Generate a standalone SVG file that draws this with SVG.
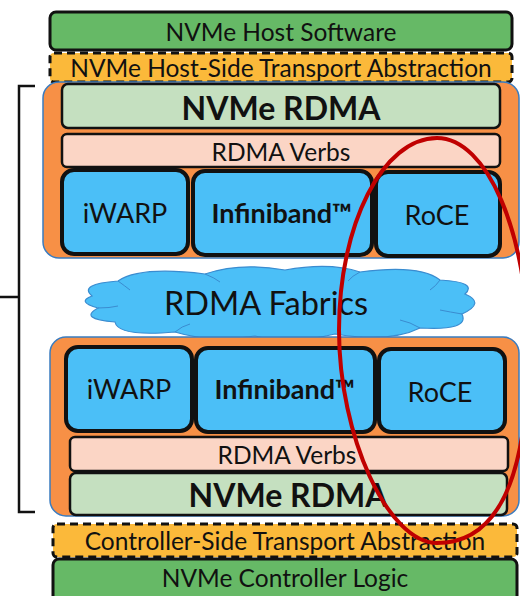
<svg xmlns="http://www.w3.org/2000/svg" width="520" height="596" viewBox="0 0 520 596">
  <style>
    text { font-family: Lato, "Open Sans", "Liberation Sans", sans-serif; fill: #111; text-anchor: middle; dominant-baseline: central; }
    .host { fill: #66b966; stroke: #111; stroke-width: 3; }
    .abs { fill: #fbb93a; stroke: #111; stroke-width: 3; stroke-dasharray: 8 5; }
    .shell { fill: #f79046; stroke: #3a7cc0; stroke-width: 1.5; }
    .nvr { fill: #c5e0c0; stroke: #111; stroke-width: 2.5; }
    .verbs { fill: #fbd5c5; stroke: #111; stroke-width: 2.5; }
    .tr { fill: #4bbff7; stroke: #111; stroke-width: 4; }
    .cloud { fill: #4bbff7; stroke: #3a8cd0; stroke-width: 1.2; }
    .cl-in { fill: none; stroke: #3a8cd0; stroke-width: 1; }
    .t22 { font-size: 24.5px; }
    .t20 { font-size: 24.5px; }
    .t24 { font-size: 27px; }
    .fab { font-size: 32.5px; }
    .bold28 { font-size: 32px; font-weight: bold; }
    .bold20 { font-size: 27px; font-weight: bold; }
  </style>

  <!-- host stack -->
  <g id="host-software">
    <rect class="host" x="50" y="12" width="462" height="38" rx="6"/>
    <text class="t22" x="281" y="31">NVMe Host Software</text>
  </g>
  <g id="host-transport">
    <rect class="abs" x="50" y="53" width="462" height="29" rx="4"/>
    <text class="t22" x="281" y="67">NVMe Host-Side Transport Abstraction</text>
  </g>
  <g id="host-rdma">
    <rect class="shell" x="43" y="82" width="476" height="176" rx="16"/>
    <g id="host-nvme-rdma">
      <rect class="nvr" x="62" y="84" width="438" height="44" rx="6"/>
      <text class="bold28" x="281" y="107">NVMe RDMA</text>
    </g>
    <g id="host-verbs">
      <rect class="verbs" x="62" y="134" width="438" height="33" rx="5"/>
      <text class="t20" x="281" y="151">RDMA Verbs</text>
    </g>
    <g id="host-iwarp">
      <rect class="tr" x="62" y="170" width="126" height="84" rx="12"/>
      <text class="t24" x="125" y="212">iWARP</text>
    </g>
    <g id="host-infiniband">
      <rect class="tr" x="193" y="171" width="179" height="84" rx="12"/>
      <text class="bold20" x="282" y="212">Infiniband™</text>
    </g>
    <g id="host-roce">
      <rect class="tr" x="376" y="172" width="124" height="84" rx="12"/>
      <text class="t24" x="437" y="214">RoCE</text>
    </g>
  </g>

  <!-- fabric -->
  <g id="fabric">
    <path class="cloud" d="M 92,296 Q 78,284 118,281 Q 140,266 205,274 Q 240,262 285,270 Q 330,262 360,272 Q 420,264 440,280 Q 478,282 465,294 Q 486,303 462,314 Q 470,331 420,328 Q 390,343 335,334 Q 290,345 255,336 Q 210,343 175,332 Q 118,337 115,322 Q 78,319 98,308 Q 76,302 92,296 Z"/>
    <path class="cl-in" d="M 118,281 Q 125,286 130,290 M 205,274 Q 215,278 220,282 M 360,272 Q 352,276 348,281 M 440,280 Q 436,286 430,290 M 462,314 Q 450,312 440,310 M 420,328 Q 410,322 400,320 M 175,332 Q 182,326 190,324 M 98,308 Q 110,308 118,306"/>
    <text class="fab" x="266" y="302">RDMA Fabrics</text>
  </g>

  <!-- controller stack -->
  <g id="ctrl-rdma">
    <rect class="shell" x="50" y="337" width="469" height="179" rx="16"/>
    <g id="ctrl-iwarp">
      <rect class="tr" x="66" y="347" width="126" height="84" rx="12"/>
      <text class="t24" x="129" y="388">iWARP</text>
    </g>
    <g id="ctrl-infiniband">
      <rect class="tr" x="196" y="348" width="179" height="84" rx="12"/>
      <text class="bold20" x="285" y="388">Infiniband™</text>
    </g>
    <g id="ctrl-roce">
      <rect class="tr" x="379" y="349" width="126" height="83" rx="12"/>
      <text class="t24" x="440" y="391">RoCE</text>
    </g>
    <g id="ctrl-verbs">
      <rect class="verbs" x="70" y="437" width="438" height="34" rx="5"/>
      <text class="t20" x="287" y="454">RDMA Verbs</text>
    </g>
    <g id="ctrl-nvme-rdma">
      <rect class="nvr" x="70" y="473" width="437" height="42" rx="6"/>
      <text class="bold28" x="288" y="494">NVMe RDMA</text>
    </g>
  </g>
  <g id="ctrl-transport">
    <rect class="abs" x="53" y="524" width="464" height="33" rx="4"/>
    <text class="t22" x="285" y="540">Controller-Side Transport Abstraction</text>
  </g>
  <g id="ctrl-logic">
    <rect class="host" x="53" y="559" width="464" height="44" rx="6"/>
    <text class="t22" x="285" y="577">NVMe Controller Logic</text>
  </g>

  <!-- brace spanning both RDMA stacks, and the highlight loop -->
  <g id="connectors">
    <path d="M 35,86 L 19,86 L 19,512 L 35,512 M 19,297 L 0,297" fill="none" stroke="#111" stroke-width="2.5"/>
    <path d="M 437,138 C 487,138 528,233 528,350 C 528,475 500,543 437,543 C 388,543 339,436 339,330 C 339,224 383,138 437,138 Z" fill="none" stroke="#c00000" stroke-width="4"/>
  </g>
</svg>
